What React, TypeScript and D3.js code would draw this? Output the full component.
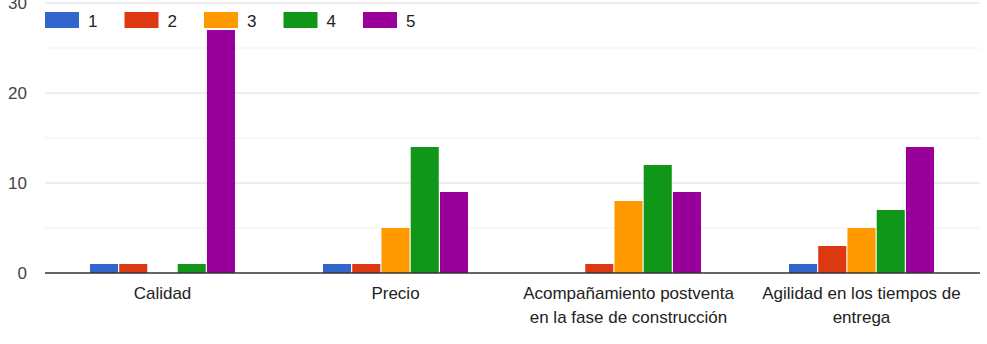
import React from "react";
import * as d3 from "d3";

const categories: string[][] = [
  ["Calidad"],
  ["Precio"],
  ["Acompañamiento postventa", "en la fase de construcción"],
  ["Agilidad en los tiempos de", "entrega"],
];
const seriesNames = ["1", "2", "3", "4", "5"];
const seriesColors = ["#3366cc", "#dc3912", "#ff9900", "#109618", "#990099"];
const values: number[][] = [
  [1, 1, 0, 1, 27],
  [1, 1, 5, 14, 9],
  [0, 1, 8, 12, 9],
  [1, 3, 5, 7, 14],
];
const majorTicks = [0, 10, 20, 30];
const minorTicks = [5, 15, 25];

const W = 987;
const H = 344;
const FONT = "'Liberation Sans', Arial, sans-serif";

export default function App() {
  const x = d3.scaleBand<number>().domain(d3.range(categories.length)).range([46, 978]);
  const y = d3.scaleLinear().domain([0, 30]).range([273, 3]);
  const groupW = 145;
  const inner = d3
    .scaleBand<number>()
    .domain(d3.range(seriesNames.length))
    .range([0, groupW])
    .paddingInner(0.04);

  return (
    <svg
      width={W}
      height={H}
      style={{ position: "absolute", left: 0, top: 0, background: "#fff" }}
      fontFamily={FONT}
    >
      {minorTicks.map((t) => (
        <line key={"m" + t} x1={45} x2={980} y1={y(t)} y2={y(t)} stroke="#f0f0f0" strokeWidth={1} />
      ))}
      {majorTicks.slice(1).map((t) => (
        <line key={"g" + t} x1={45} x2={980} y1={y(t)} y2={y(t)} stroke="#dcdcdc" strokeWidth={1} />
      ))}
      {majorTicks.map((t) => (
        <text key={"t" + t} x={27} y={y(t)} textAnchor="end" dominantBaseline="central" fontSize={17} fill="#444">
          {t}
        </text>
      ))}
      {values.map((row, ci) => {
        const gx = (x(ci) as number) + x.bandwidth() / 2 - groupW / 2;
        return row.map((v, si) =>
          v > 0 ? (
            <rect
              key={ci + "-" + si}
              x={gx + (inner(si) as number)}
              y={y(v)}
              width={inner.bandwidth()}
              height={y(0) - y(v)}
              fill={seriesColors[si]}
            />
          ) : null
        );
      })}
      <line x1={45} x2={980} y1={y(0)} y2={y(0)} stroke="#333" strokeWidth={1.5} />
      {categories.map((lines, ci) => (
        <text
          key={"c" + ci}
          x={(x(ci) as number) + x.bandwidth() / 2}
          y={299}
          textAnchor="middle"
          fontSize={17}
          fill="#222"
        >
          {lines.map((l, li) => (
            <tspan key={li} x={(x(ci) as number) + x.bandwidth() / 2} dy={li === 0 ? 0 : 24}>
              {l}
            </tspan>
          ))}
        </text>
      ))}
      {seriesNames.map((s, i) => {
        const lx = 45 + i * 79.5;
        return (
          <g key={"l" + s}>
            <rect x={lx} y={12} width={34} height={16} fill={seriesColors[i]} />
            <text x={lx + 43} y={21} dominantBaseline="central" fontSize={17} fill="#222">
              {s}
            </text>
          </g>
        );
      })}
    </svg>
  );
}
